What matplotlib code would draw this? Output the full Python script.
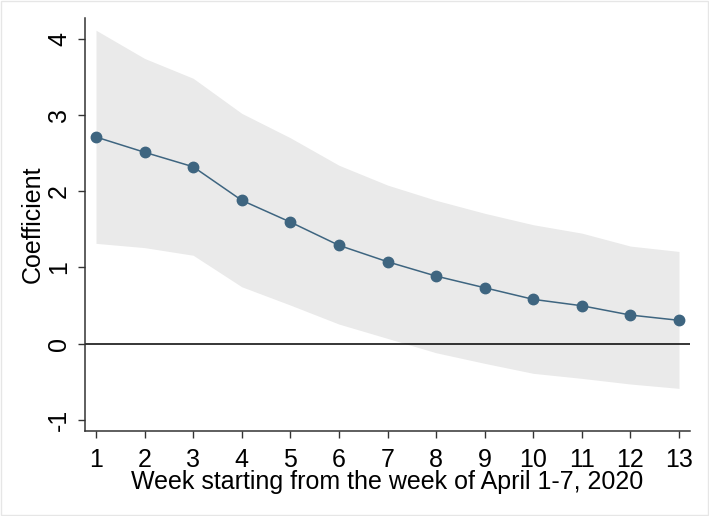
import matplotlib
matplotlib.use("Agg")
import matplotlib.pyplot as plt

# week index and estimates
weeks = [1, 2, 3, 4, 5, 6, 7, 8, 9, 10, 11, 12, 13]
coef = [2.71, 2.51, 2.32, 1.88, 1.595, 1.29, 1.075, 0.887, 0.734, 0.582, 0.498, 0.376, 0.307]
ci_upper = [4.11, 3.74, 3.48, 3.02, 2.70, 2.34, 2.08, 1.88, 1.71, 1.56, 1.45, 1.28, 1.21]
ci_lower = [1.316, 1.26, 1.16, 0.747, 0.507, 0.258, 0.07, -0.118, -0.257, -0.388, -0.454, -0.528, -0.585]
y_ticks = [-1, 0, 1, 2, 3, 4]

plt.rcParams['font.family'] = ['Liberation Sans', 'DejaVu Sans']

fig = plt.figure(figsize=(7.09, 5.16), dpi=100)
ax = fig.add_axes([0.1199, 0.1647, 0.8533, 0.8004])

# confidence band
ax.fill_between(weeks, ci_lower, ci_upper, color='#eaeaea', linewidth=0, zorder=1)
# zero reference line
ax.axhline(0, color='black', linewidth=1.1, zorder=2)
# point estimates
ax.plot(weeks, coef, color='#3e6580', linewidth=1.1, marker='o', markersize=7.5,
        markerfacecolor='#3e6580', markeredgecolor='#3e6580', zorder=3)

ax.set_xlim(0.774, 13.226)
ax.set_ylim(-1.144, 4.27)
ax.set_xticks(weeks)
ax.set_yticks(y_ticks)
ax.set_yticklabels([str(v) for v in y_ticks], rotation=90, va='center')

for s in ['top', 'right']:
    ax.spines[s].set_visible(False)
for s in ['left', 'bottom']:
    ax.spines[s].set_color('#333333')
    ax.spines[s].set_linewidth(1.1)

ax.tick_params(axis='both', labelsize=18, length=5, width=1, color='#333333')
ax.tick_params(axis='x', pad=7)
ax.tick_params(axis='y', pad=5)

ax.set_xlabel('Week starting from the week of April 1-7, 2020', fontsize=18, labelpad=-1)
ax.set_ylabel('Coefficient', fontsize=18, labelpad=2)

# light frame around the whole graph
fig.patches.append(plt.Rectangle((0.001, 0.001), 0.998, 0.998, transform=fig.transFigure,
                                 fill=False, edgecolor='#e6e6e6', linewidth=1))

fig.savefig('out.png', dpi=100)
